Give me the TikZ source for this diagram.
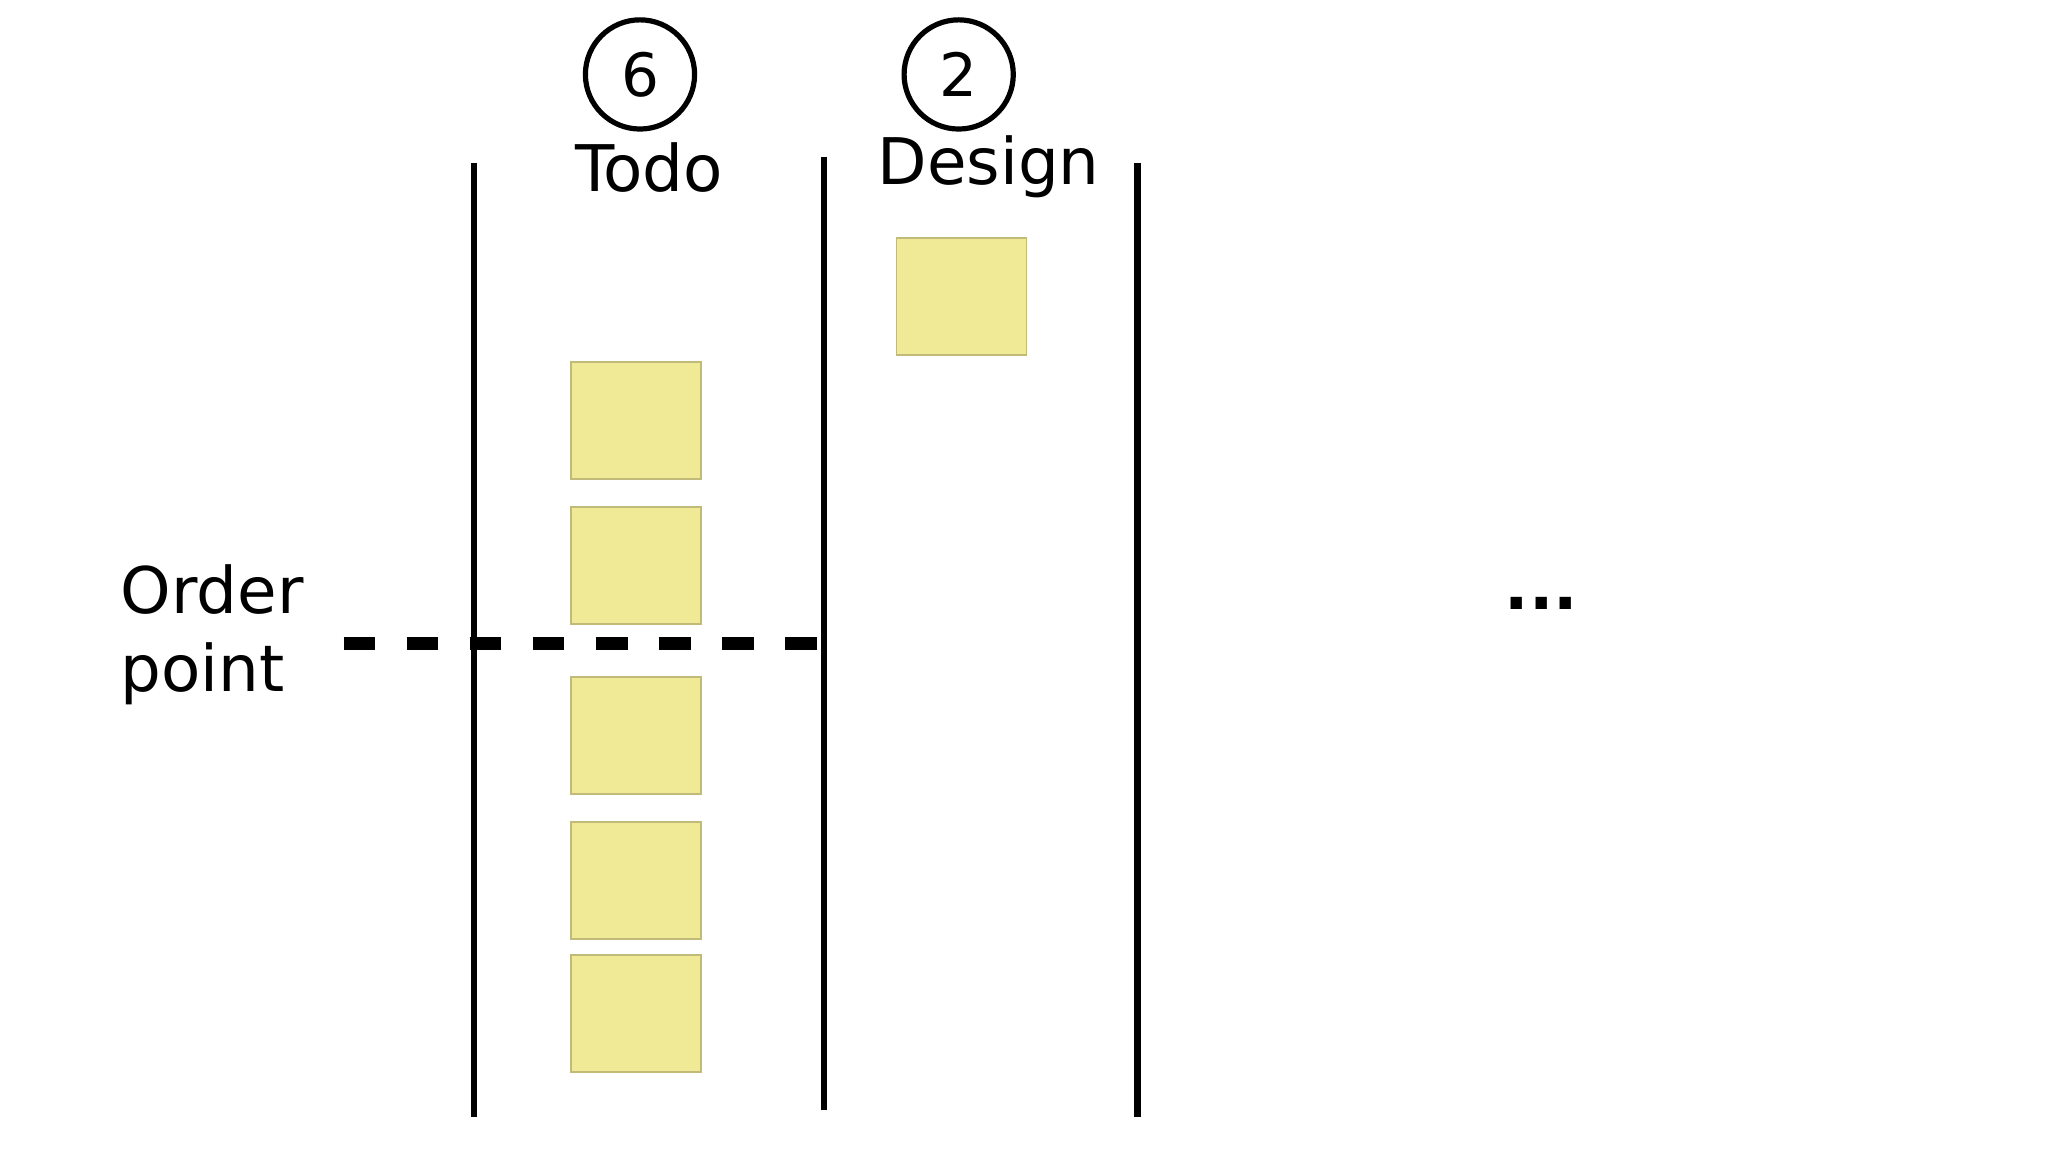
\documentclass[tikz,border=0pt]{standalone}
\usepackage{fontspec}
\setmainfont{DejaVu Sans}
\definecolor{sticky}{RGB}{240,234,150}
\begin{document}
\begin{tikzpicture}[x=0.01cm,y=-0.01cm,
  lane/.style={line width=5pt*0.283},
  note/.style={fill=sticky, draw=sticky!80!black, line width=0.3pt, minimum width=100*0.283pt, minimum height=90*0.283pt, inner sep=0pt},
  wip/.style={circle, draw, line width=4*0.283pt, minimum size=84*0.283pt, inner sep=0pt, font=\fontsize{13}{15}\selectfont},
  lbl/.style={font=\fontsize{14}{17}\selectfont}]
\useasboundingbox (0,0) rectangle (1568,882);
\fill[white] (0,0) rectangle (1568,882);
\coordinate (l1t) at (363,125); \coordinate (l1b) at (363,855);
\coordinate (l2t) at (631,120); \coordinate (l2b) at (631,850);
\coordinate (l3t) at (871,125); \coordinate (l3b) at (871,855);
\draw[lane] (l1t) -- (l1b);
\draw[lane] (l2t) -- (l2b);
\draw[lane] (l3t) -- (l3b);
\node[wip] (c1) at (490,57) {6};
\node[wip] (c2) at (734,57) {2};
\node[lbl] (todo) at (497,128) {Todo};
\node[lbl] (design) at (757,128) {Design};
\node[note] (n1) at (487,322) {};
\node[note] (n2) at (487,433) {};
\node[note] (n3) at (487,563) {};
\node[note] (n4) at (487,674) {};
\node[note] (n5) at (487,776) {};
\node[note] (d1) at (736,227) {};
\coordinate (ds) at (263,493); \coordinate (de) at (634,493);
\draw[line width=10*0.283pt, dash pattern=on 24.5*0.283pt off 24*0.283pt] (ds) -- (de);
\node[lbl, align=left, anchor=west] (op) at (80,486) {Order\\point};
\node[font=\fontsize{14}{17}\bfseries] (dots) at (1180,462) {...};
\end{tikzpicture}
\end{document}
